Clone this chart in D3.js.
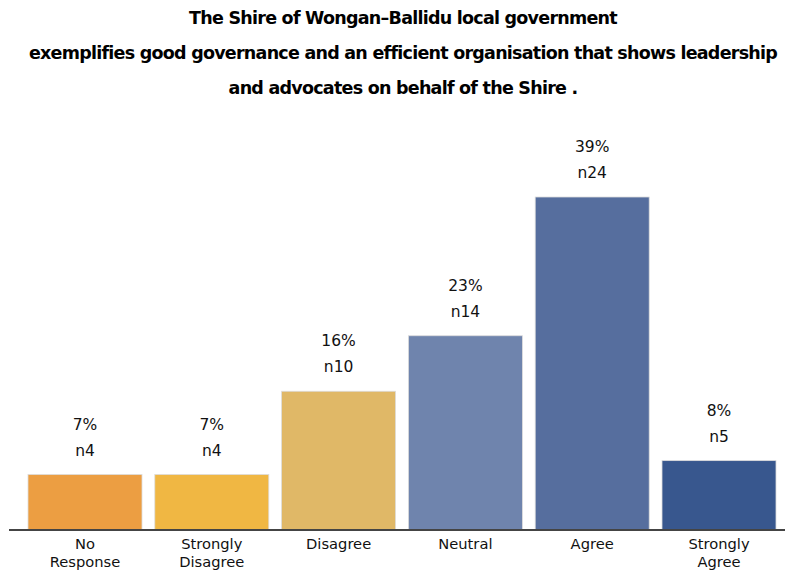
<!DOCTYPE html>
<html><head><meta charset="utf-8">
<script src="https://cdn.jsdelivr.net/npm/d3@7"></script>
<style>body{margin:0;background:#fff}</style>
</head><body>
<svg id="c" width="785" height="570"></svg>
<script>
const categories = [["No","Response"],["Strongly","Disagree"],["Disagree"],["Neutral"],["Agree"],["Strongly","Agree"]];
const counts = [4,4,10,14,24,5];
const percents = ["7%","7%","16%","23%","39%","8%"];
const colors = ["#EC9E42","#F0B743","#E0B867","#6F84AD","#566E9E","#38578E"];
const titleLines = ["The Shire of Wongan\u2013Ballidu local government","exemplifies good governance and an efficient organisation that shows leadership","and advocates on behalf of the Shire ."];

const svg = d3.select("#c");
const keys = categories.map((d,i)=>i);
const x = d3.scaleBand().domain(keys).range([28,776]).paddingInner(0.101).paddingOuter(0);
const y = d3.scaleLinear().domain([0,24]).range([530,197]);

svg.append("g").selectAll("text").data(titleLines).join("text")
  .attr("x",403).attr("y",(d,i)=>24+i*35)
  .attr("text-anchor","middle")
  .attr("font-family","DejaVu Sans").attr("font-weight","bold").attr("font-size",17.5)
  .attr("letter-spacing",-0.75)
  .text(d=>d);

svg.append("g").selectAll("rect").data(counts).join("rect")
  .attr("x",(d,i)=>x(i)).attr("y",d=>y(d))
  .attr("width",x.bandwidth()).attr("height",d=>y(0)-y(d))
  .attr("fill",(d,i)=>colors[i]).attr("stroke","#dcdcdc").attr("stroke-width",0.8);

const lab = svg.append("g").attr("font-family","DejaVu Sans").attr("font-size",15.5).attr("fill","#111").attr("text-anchor","middle");
lab.selectAll("text.p").data(counts).join("text").attr("class","p")
  .attr("x",(d,i)=>x(i)+x.bandwidth()/2).attr("y",d=>y(d)-45).text((d,i)=>percents[i]);
lab.selectAll("text.n").data(counts).join("text").attr("class","n")
  .attr("x",(d,i)=>x(i)+x.bandwidth()/2).attr("y",d=>y(d)-19).text(d=>"n"+d);

svg.append("line").attr("x1",9).attr("x2",785).attr("y1",y(0)).attr("y2",y(0))
  .attr("stroke","#444").attr("stroke-width",2);

const cl = svg.append("g").attr("font-family","DejaVu Sans").attr("font-size",14.7).attr("fill","#111").attr("text-anchor","middle");
categories.forEach((lines,i)=>{
  const t = cl.append("text").attr("x",x(i)+x.bandwidth()/2).attr("y",549);
  lines.forEach((l,j)=>t.append("tspan").attr("x",x(i)+x.bandwidth()/2).attr("dy",j?17.5:0).text(l));
});
</script>
</body></html>
